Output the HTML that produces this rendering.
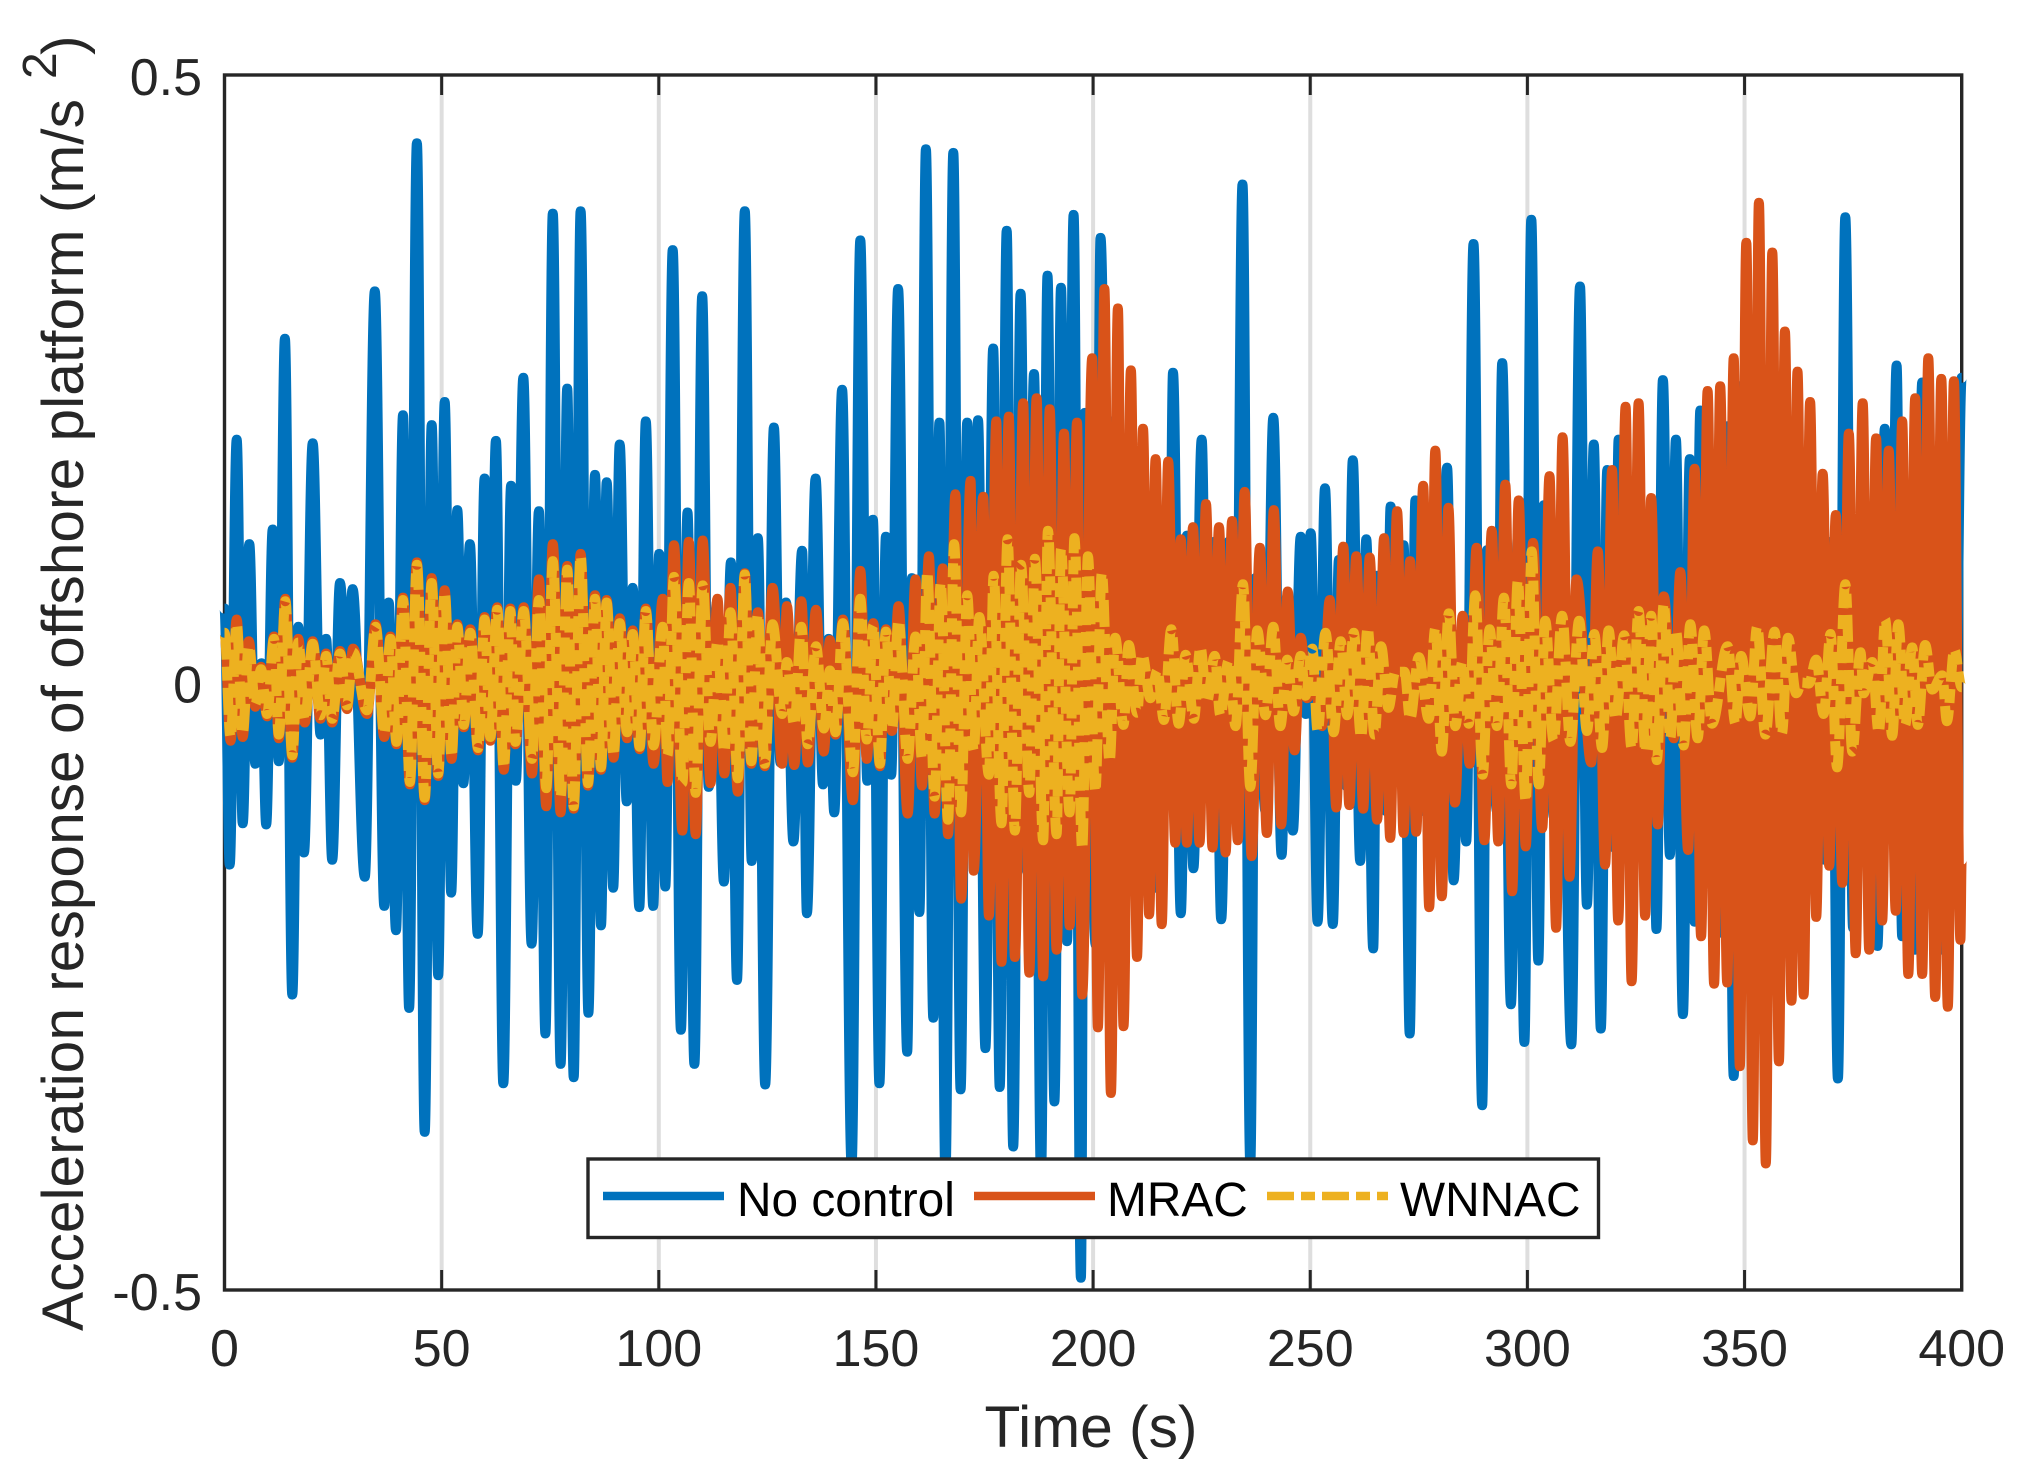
<!DOCTYPE html>
<html lang="en">
<head>
<meta charset="utf-8">
<title>Acceleration response of offshore platform</title>
<style>
html,body{margin:0;padding:0;background:#fff;}
svg{display:block;}
text{font-family:"Liberation Sans",sans-serif;fill:#262626;}
</style>
</head>
<body>
<svg id="chart" xmlns="http://www.w3.org/2000/svg" width="2032" height="1479" viewBox="0 0 2032 1479">
  <rect x="0" y="0" width="2032" height="1479" fill="#ffffff"/>
  <g id="grid-layer"></g>
  <g id="axis-layer"></g>
  <g id="series-layer"></g>

  <text transform="translate(83,1331) rotate(-90)" font-size="58.7">Acceleration response of offshore platform (m/s</text>
  <text transform="translate(56,79) rotate(-90)" font-size="48">2</text>
  <text transform="translate(83,55) rotate(-90)" font-size="58.7">)</text>
  <text x="1091" y="1447" text-anchor="middle" font-size="58.7">Time (s)</text>

  <g>
    <rect x="588" y="1159" width="1010.5" height="78.5" fill="#ffffff" stroke="#262626" stroke-width="3.4"/>
    <line x1="603" y1="1196" x2="724" y2="1196" stroke="#0072BD" stroke-width="8.5"/>
    <text x="737" y="1216" font-size="47.8" style="fill:#000">No control</text>
    <line x1="974" y1="1196" x2="1095" y2="1196" stroke="#D95319" stroke-width="8.5"/>
    <text x="1107" y="1216" font-size="47.8" style="fill:#000">MRAC</text>
    <line x1="1267" y1="1196" x2="1388" y2="1196" stroke="#EDB120" stroke-width="8.5" stroke-dasharray="27 7 14 7"/>
    <text x="1400" y="1216" font-size="47.8" style="fill:#000">WNNAC</text>
  </g>
</svg>

<script>
// Axis tick data
const xTickValues = [0, 50, 100, 150, 200, 250, 300, 350, 400];
const xTickLabels = ["0", "50", "100", "150", "200", "250", "300", "350", "400"];
const yTickValues = [0.5, 0, -0.5];
const yTickLabels = ["0.5", "0", "-0.5"];

// No control: upper peaks and lower troughs
const noControlPeakTimes = [0,2.8,5.7,8.5,11.1,13.9,17,20.3,23.4,26.6,29.5,34.6,37.8,41.1,44.3,47.7,50.7,53.6,56.5,59.9,62.5,66,68.8,72.4,75.6,78.9,82,85.3,88,91,94,97,100.1,103.2,106.6,110,113.4,116.6,119.8,122.8,126.5,129.3,133,136.1,139.1,142.2,146.4,149.3,152.3,155.1,158.3,161.5,164.6,167.8,171,173.5,177,180.1,183.3,186.4,189.5,192.6,195.5,198.1,201.7,205,208.6,211.7,215,218.4,221.6,225,228,231.2,234.4,237.4,241.5,244.7,247.8,250.1,253.4,256.6,259.8,262.9,265.4,268.5,271.5,274.2,277.7,281.5,284.6,287.6,290.7,294.2,297.8,300.9,303.8,307.6,312.1,315.3,318.4,321,324.5,328.7,331.2,334.2,337.4,339.8,343,346,348.9,351.7,355,358,361,364,367,370,373.2,376.3,379.4,382.3,385,388,390.9,394.3,397.4,400];
const noControlPeakValues = [.065,.204,.118,.02,.13,.287,.05,.201,.04,.086,.081,.326,.07,.224,.448,.216,.235,.146,.118,.172,.203,.166,.255,.145,.39,.246,.392,.175,.169,.2,.082,.219,.11,.36,.144,.322,.07,.103,.392,.123,.214,.07,.1125,.172,.04,.245,.368,.138,.124,.328,.09,.443,.218,.44,.218,.22,.279,.376,.324,.258,.339,.329,.389,.226,.37,.22,.157,.13,.12,.259,.125,.204,.12,.12,.414,.09,.222,.075,.124,.127,.164,.105,.187,.122,.092,.149,.117,.154,.108,.181,.03,.365,.113,.267,.124,.385,.15,.135,.33,.2,.179,.204,.13,.13,.253,.204,.188,.228,.15,.215,.248,.281,.2,.15,.17,.15,.13,.12,.387,.09,.11,.213,.265,.14,.251,.17,.16,.255];
const noControlTroughTimes = [1.2,4.2,7.1,9.6,12.5,15.6,18.3,22.1,24.8,28.2,32.3,36.8,39.5,42.5,46.1,49.2,52.2,55,58.3,61.2,64.2,67.1,70.7,73.9,77.4,80.4,83.8,86.7,89.5,92.6,95.5,98.7,101.5,105.1,108.2,111.5,115,118,121.4,124.5,128,131,134.1,137.8,140.4,144.4,148,150.8,153.5,157.2,160,163.2,166,169.5,172.2,175.2,178.5,181.6,184.8,188,191.1,194,197.2,200.6,204,207,210,214.3,217.4,220.2,223.1,226.3,229.5,232.8,236.2,239.7,243.4,246,249,251.7,255.2,258.5,261.5,264.5,267.5,269.9,272.9,276.1,279.2,283,285.9,289.6,293,296.2,299.3,302.5,306.1,310.1,313.7,316.9,320,323,326.8,329.7,332.8,335.8,338.5,341.5,344.5,347.5,350.3,352.9,356.5,359.5,362.5,365.5,368.5,371.5,375,378,380.6,383.5,386.3,389.3,392,395.1,398.3];
const noControlTroughValues = [-.154,-.12,-.071,-.121,-.069,-.261,-.144,-.047,-.15,-.02,-.164,-.188,-.208,-.272,-.374,-.245,-.177,-.087,-.211,-.05,-.334,-.085,-.219,-.293,-.318,-.329,-.276,-.204,-.173,-.102,-.189,-.188,-.172,-.29,-.318,-.09,-.168,-.249,-.151,-.335,-.07,-.135,-.194,-.088,-.111,-.4,-.085,-.334,-.08,-.308,-.193,-.28,-.41,-.339,-.135,-.305,-.337,-.386,-.16,-.41,-.349,-.217,-.494,-.22,-.2,-.14,-.16,-.173,-.09,-.194,-.157,-.08,-.199,-.11,-.4,-.11,-.146,-.126,-.03,-.201,-.203,-.09,-.151,-.223,-.11,-.08,-.293,-.11,-.1,-.167,-.135,-.352,-.11,-.269,-.3,-.233,-.115,-.302,-.187,-.289,-.14,-.11,-.08,-.207,-.146,-.277,-.201,-.15,-.21,-.328,-.2,-.23,-.2,-.2,-.2,-.15,-.15,-.33,-.206,-.12,-.221,-.12,-.213,-.224,-.15,-.224,-.14];

// MRAC: upper peaks and lower troughs
const mracPeakTimes = [0,2.8,5.6,8.4,11.4,14,17,20.3,23.4,26.6,29.6,34.8,38.2,41.1,44.3,47.7,50.7,53.6,56.6,59.9,62.8,65.8,68.9,72.4,75.6,78.9,82,85.3,88,91,94,97,100.9,103.5,106.9,110.1,113.5,116.5,119.8,122.8,126.2,129.5,132.8,136.2,139.4,142.4,146.4,149.4,152.3,155.2,159.1,162.2,165.4,168.3,171.8,174.7,177.7,180.6,183.9,187,190,193.3,196.3,199.8,202.6,205.7,208.7,211.5,214.4,217.3,220.2,223,226,229,232,234.9,238.4,241.6,244.8,247.8,250.8,254.5,257.6,260.6,263.7,267,270,273,276,278.8,281.8,285.1,288.3,291.8,294.9,298,301.3,305.1,308.1,311.3,316.2,319.5,322.6,325.6,328.5,331.4,335.2,338.5,341.5,344.4,347.5,350.4,353.3,356.4,359.3,362.2,365.1,368,371,374,377.2,380.3,383.2,386.3,389.3,392.3,395.3,398.2];
const mracPeakValues = [.045,.056,.038,.017,.042,.073,.04,.038,.028,.03,.032,.052,.042,.074,.103,.09,.08,.052,.048,.058,.066,.065,.066,.089,.118,.1,.11,.076,.072,.057,.047,.065,.073,.117,.12,.121,.073,.082,.094,.062,.082,.067,.071,.064,.039,.056,.096,.053,.048,.067,.089,.108,.098,.159,.17,.157,.219,.223,.234,.238,.229,.209,.218,.271,.328,.312,.261,.213,.188,.186,.122,.132,.151,.132,.137,.161,.115,.146,.079,.041,.01,.072,.116,.108,.107,.123,.145,.104,.166,.195,.148,.059,.115,.129,.167,.154,.119,.174,.206,.089,.112,.179,.231,.234,.156,.075,.095,.18,.244,.248,.271,.366,.399,.358,.293,.26,.235,.176,.142,.209,.234,.205,.195,.219,.238,.271,.254,.252];
const mracTroughTimes = [1.4,4.2,7.1,9.8,12.5,15.6,18.5,22.1,24.8,28.2,32.8,36.8,39.6,42.7,46.1,49.2,52.3,55.1,58.4,61.2,64.3,67,70.8,74.1,77.4,80.4,83.7,86.7,89.6,92.7,95.6,98.8,102,105.4,108.5,111.9,115.1,118.2,121.3,124.4,128.4,131.2,134.3,138,140.7,144.7,147.9,150.9,153.7,157.3,160.6,163.5,166.6,169.6,172.5,176,178.9,182,185.3,188.5,191.6,194.6,197.5,201.1,204.1,207,210.1,212.9,215.8,218.9,221.6,224.5,227.5,230.5,233.3,236.5,240,243.3,246.4,249.3,252.7,256,259,262.2,265.4,268.4,271.5,274.4,277.4,280.3,283.3,286.7,290.1,293.3,296.5,299.6,303.4,306.6,309.7,314.7,317.9,320.9,324,327.1,330,333.7,337,340,343,346,348.9,351.9,354.9,357.9,360.8,363.6,366.5,369.5,372.5,375.6,378.7,381.7,384.8,387.7,390.9,393.9,396.8,399.7,400];
const mracTroughValues = [-.052,-.049,-.024,-.032,-.05,-.066,-.037,-.034,-.037,-.026,-.03,-.049,-.055,-.088,-.101,-.081,-.067,-.041,-.06,-.052,-.076,-.055,-.079,-.106,-.111,-.108,-.089,-.076,-.066,-.05,-.059,-.071,-.086,-.126,-.129,-.087,-.079,-.094,-.071,-.073,-.071,-.072,-.07,-.061,-.047,-.101,-.067,-.073,-.044,-.112,-.089,-.112,-.129,-.182,-.159,-.196,-.234,-.23,-.243,-.246,-.224,-.204,-.261,-.288,-.342,-.287,-.23,-.195,-.203,-.136,-.136,-.136,-.14,-.144,-.134,-.147,-.128,-.121,-.06,-.017,-.04,-.107,-.105,-.108,-.117,-.132,-.128,-.127,-.189,-.18,-.103,-.071,-.134,-.135,-.176,-.139,-.124,-.206,-.164,-.07,-.154,-.2,-.25,-.196,-.121,-.05,-.142,-.213,-.252,-.251,-.32,-.381,-.4,-.316,-.266,-.261,-.197,-.155,-.169,-.227,-.224,-.2,-.192,-.244,-.244,-.263,-.271,-.216,-.15];

// WNNAC: upper peaks and lower troughs
const wnnacPeakTimes = [0,2.8,5.6,8.4,11.4,14,17,20.3,23.4,26.6,29.6,34.8,38.2,41.1,44.3,47.7,50.7,53.6,56.6,59.9,62.8,65.8,68.9,72.4,75.6,78.9,82,85.3,88,91,94,97,100.9,103.5,106.9,110.1,113.5,116.5,119.8,122.8,126.2,129.5,132.8,136.2,139.4,142.4,146.4,149.4,152.3,155.2,159.1,161.8,164.9,168,171,173.8,177.1,180.3,183.4,186.6,189.6,192.6,195.7,198.8,202,205.1,208.2,211.3,214.8,218,221.3,224.7,228,231.2,234.5,237.8,241.5,244.7,247.8,250.5,253.5,257,260,263.2,266.3,269.6,271.7,275,278.8,281.9,285,288,291.3,294.6,297.8,301,304.1,308,311.9,315.4,318.7,322.3,325.6,328.5,331.4,334.2,337.5,340.7,346.1,349.2,352.9,356.9,360,363.2,366.5,369.8,373.2,376.7,379.4,382.4,385.4,388.6,391.6,395.5,398.3];
const wnnacPeakValues = [.045,.052,.034,.015,.04,.071,.037,.036,.026,.028,.029,.05,.04,.072,.101,.086,.078,.05,.045,.056,.064,.063,.063,.072,.104,.097,.108,.073,.07,.053,.044,.063,.05,.091,.086,.084,.038,.062,.093,.06,.052,.021,.05,.034,.014,.053,.073,.051,.046,.055,.042,.095,.086,.118,.076,.058,.092,.122,.101,.106,.129,.114,.123,.108,.094,.041,.035,.027,.014,.048,.027,.033,.026,.022,.085,.047,.05,.023,.026,.032,.045,.038,.045,.049,.034,.013,.013,.025,.049,.061,.021,.076,.048,.074,.088,.112,.055,.059,.055,.044,.047,.043,.063,.059,.069,.047,.052,.047,.034,.026,.05,.046,.041,.001,.023,.044,.085,.029,.021,.056,.052,.033,.035,.01,.031];
const wnnacTroughTimes = [1.4,4.2,7.1,9.8,12.5,15.6,18.5,22.1,24.8,28.2,32.8,36.8,39.6,42.7,46.1,49.2,52.3,55.1,58.4,61.2,64.3,67,70.8,74.1,77.4,80.4,83.7,86.7,89.6,92.7,95.6,98.8,102,105.4,108.5,111.9,115.1,118.2,121.3,124.4,128.4,131.2,134.3,138,140.7,144.7,147.9,150.9,153.7,157.3,160.6,163.5,166.6,169.6,172.5,176,178.9,182,185.3,188.5,191.6,194.6,197.5,200.5,203.8,207,210.1,213.2,216.3,219.7,223.2,226.2,229.3,232.8,236.2,239.7,243.1,246.2,248.9,251.7,255.4,258.5,261.7,264.8,268,273,277.3,280.3,283.4,286.5,289.7,293,296.3,299.6,302.6,306,309.9,313.7,317.2,320.3,324,327.2,329.8,332.9,336,339.2,342.5,347.9,351.3,354.8,358.6,361.9,364.8,368.2,371.3,374.8,377.4,380.9,384,387,389.9,393.2,396.6,400];
const wnnacTroughValues = [-.049,-.046,-.022,-.03,-.047,-.064,-.035,-.031,-.034,-.023,-.027,-.046,-.053,-.086,-.099,-.079,-.065,-.039,-.058,-.049,-.074,-.053,-.067,-.091,-.098,-.106,-.087,-.074,-.064,-.045,-.057,-.056,-.064,-.087,-.095,-.053,-.061,-.083,-.069,-.071,-.03,-.039,-.055,-.042,-.045,-.078,-.051,-.071,-.042,-.067,-.067,-.098,-.117,-.111,-.06,-.08,-.12,-.126,-.095,-.134,-.129,-.111,-.141,-.094,-.069,-.039,-.029,-.017,-.035,-.038,-.034,-.02,-.031,-.04,-.09,-.031,-.04,-.028,-.015,-.044,-.045,-.031,-.049,-.047,-.025,-.034,-.034,-.061,-.04,-.038,-.08,-.04,-.088,-.102,-.088,-.052,-.053,-.044,-.058,-.034,-.058,-.061,-.068,-.05,-.056,-.05,-.038,-.038,-.032,-.047,-.046,-.013,-.005,-.03,-.074,-.061,-.013,-.045,-.048,-.039,-.039,-.01,-.036,-.008];

const SVG_NS = "http://www.w3.org/2000/svg";
function xScale(t) { return 224.5 + t * 4.343; }
function yScale(v) { return 682.5 - v * 1215; }

function makeLine(parent, x1, y1, x2, y2, color, width) {
  const el = document.createElementNS(SVG_NS, "line");
  el.setAttribute("x1", x1);
  el.setAttribute("y1", y1);
  el.setAttribute("x2", x2);
  el.setAttribute("y2", y2);
  el.setAttribute("stroke", color);
  el.setAttribute("stroke-width", width);
  parent.appendChild(el);
  return el;
}

function makeLabel(parent, x, y, anchor, content) {
  const el = document.createElementNS(SVG_NS, "text");
  el.setAttribute("x", x);
  el.setAttribute("y", y);
  el.setAttribute("text-anchor", anchor);
  el.setAttribute("font-size", "52");
  el.textContent = content;
  parent.appendChild(el);
  return el;
}

function mergedPoints(peakTimes, peakValues, troughTimes, troughValues) {
  const points = [];
  peakTimes.forEach(function (t, i) { points.push([t, peakValues[i]]); });
  troughTimes.forEach(function (t, i) { points.push([t, troughValues[i]]); });
  points.sort(function (a, b) { return a[0] - b[0]; });
  return points;
}

// Tip position: values were read at the outer edge of the thick stroke,
// so the centre line sits half a stroke width closer to zero.
function tipY(v) {
  const inset = Math.min(5, Math.abs(v) * 1215);
  return yScale(v) + (v > 0 ? inset : -inset);
}

function makeSeries(name, color, dash, peakTimes, peakValues, troughTimes, troughValues) {
  const pts = mergedPoints(peakTimes, peakValues, troughTimes, troughValues);
  let d = "";
  pts.forEach(function (p, i) {
    const x = xScale(p[0]);
    const y = tipY(p[1]);
    if (i === 0) {
      d += "M" + x.toFixed(1) + " " + y.toFixed(1);
    } else {
      const px = xScale(pts[i - 1][0]);
      const py = tipY(pts[i - 1][1]);
      const h = (x - px) * 0.37;
      d += "C" + (px + h).toFixed(1) + " " + py.toFixed(1) + " " + (x - h).toFixed(1) + " " + y.toFixed(1) + " " + x.toFixed(1) + " " + y.toFixed(1);
    }
  });
  const el = document.createElementNS(SVG_NS, "path");
  
  
  el.setAttribute("d", d);
  el.setAttribute("fill", "none");
  el.setAttribute("stroke", color);
  el.setAttribute("stroke-width", "10");
  el.setAttribute("stroke-linejoin", "round");
  el.setAttribute("stroke-linecap", "butt");
  if (dash) el.setAttribute("stroke-dasharray", dash);
  document.getElementById("series-layer").appendChild(el);
}

const gridLayer = document.getElementById("grid-layer");
const axisLayer = document.getElementById("axis-layer");
const plotTop = yScale(0.5);
const plotBottom = yScale(-0.5);
const plotLeft = xScale(0);
const plotRight = xScale(400);

xTickValues.forEach(function (t, i) {
  if (t > 0 && t < 400) {
    const grid = makeLine(gridLayer, xScale(t), plotTop, xScale(t), plotBottom, "#dedede", 4);
    
    
    const tickBottom = makeLine(axisLayer, xScale(t), plotBottom, xScale(t), plotBottom - 20, "#262626", 3);
    
    
    const tickTop = makeLine(axisLayer, xScale(t), plotTop, xScale(t), plotTop + 20, "#262626", 3);
    
    
  }
  const label = makeLabel(axisLayer, xScale(t), 1366, "middle", xTickLabels[i]);
  
  
});

yTickValues.forEach(function (v, i) {
  if (v === 0) {
    const tickLeft = makeLine(axisLayer, plotLeft, yScale(v), plotLeft + 20, yScale(v), "#262626", 3);
    
    
    const tickRight = makeLine(axisLayer, plotRight, yScale(v), plotRight - 20, yScale(v), "#262626", 3);
    
    
  }
  const label = makeLabel(axisLayer, 202, yScale(v) + 20, "end", yTickLabels[i]);
  
  
});

const axisBox = document.createElementNS(SVG_NS, "rect");


axisBox.setAttribute("x", plotLeft);
axisBox.setAttribute("y", plotTop);
axisBox.setAttribute("width", plotRight - plotLeft);
axisBox.setAttribute("height", plotBottom - plotTop);
axisBox.setAttribute("fill", "none");
axisBox.setAttribute("stroke", "#262626");
axisBox.setAttribute("stroke-width", "3.4");
axisLayer.appendChild(axisBox);

makeSeries("series-no-control", "#0072BD", null, noControlPeakTimes, noControlPeakValues, noControlTroughTimes, noControlTroughValues);
makeSeries("series-mrac", "#D95319", null, mracPeakTimes, mracPeakValues, mracTroughTimes, mracTroughValues);
makeSeries("series-wnnac", "#EDB120", "27 7 14 7", wnnacPeakTimes, wnnacPeakValues, wnnacTroughTimes, wnnacTroughValues);
</script>
</body>
</html>
